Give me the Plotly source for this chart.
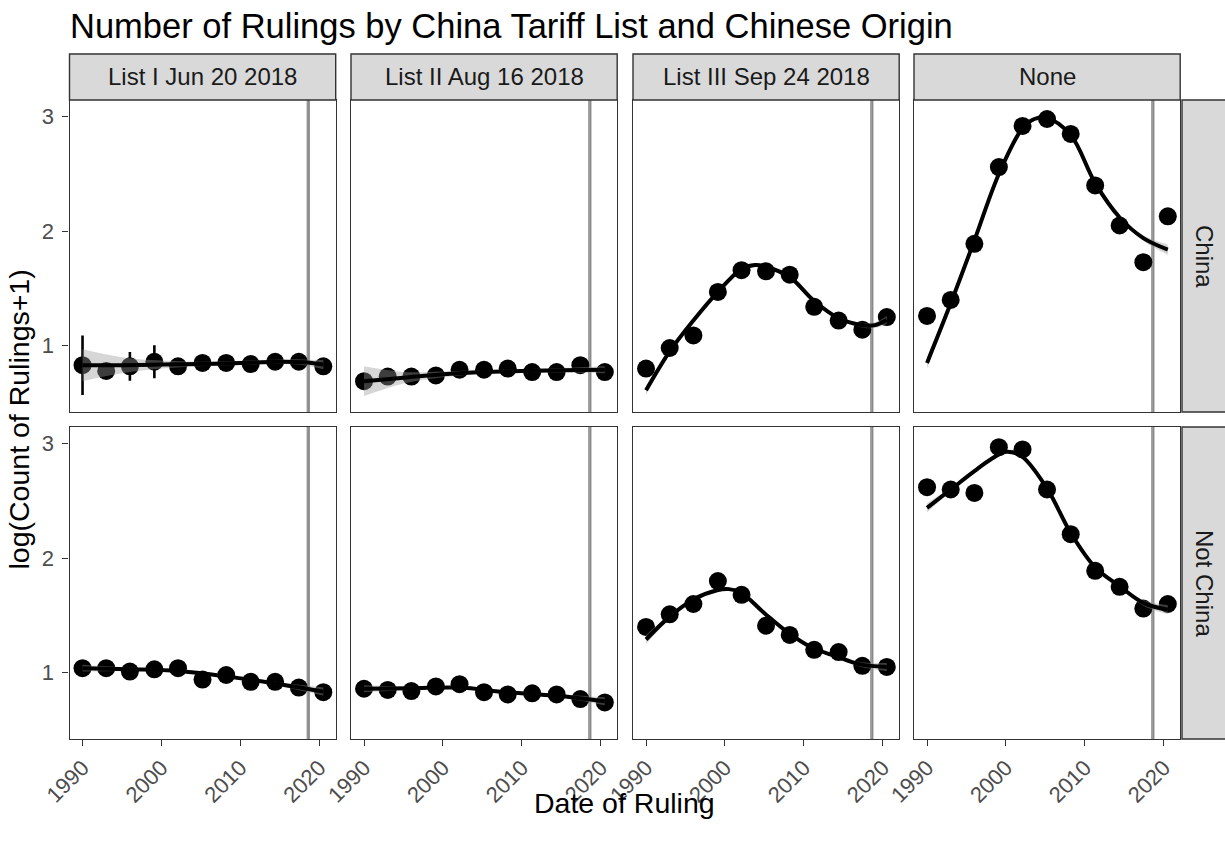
import plotly.graph_objects as go

# ---------------------------------------------------------------------------
# Data: mean log(count+1) of rulings per 3-year bin, by tariff list and origin
# ---------------------------------------------------------------------------
YEARS = [1990.0, 1993.0, 1996.0, 1999.1, 2002.1, 2005.2, 2008.2, 2011.3, 2014.4, 2017.4, 2020.5]

LIST_LABELS = ["List I Jun 20 2018", "List II Aug 16 2018", "List III Sep 24 2018", "None"]
ORIGIN_LABELS = ["China", "Not China"]

# tariff announcement dates (decimal years), drawn in every panel
TARIFF_DATES = [2018.47, 2018.62, 2018.73]

X_TICKS = [1990, 2000, 2010, 2020]
Y_TICKS = [1, 2, 3]

# China origin
CHINA_L1 = [0.83, 0.78, 0.82, 0.86, 0.82, 0.85, 0.85, 0.84, 0.86, 0.86, 0.82]
CHINA_L1_SE = [0.26, 0.07, 0.125, 0.145, 0.02, 0.02, 0.02, 0.02, 0.02, 0.02, 0.02]
CHINA_L2 = [0.69, 0.73, 0.73, 0.74, 0.79, 0.79, 0.80, 0.77, 0.77, 0.83, 0.77]
CHINA_L3 = [0.80, 0.98, 1.09, 1.47, 1.66, 1.65, 1.62, 1.34, 1.22, 1.14, 1.25]
CHINA_NONE = [1.26, 1.40, 1.89, 2.56, 2.92, 2.98, 2.85, 2.40, 2.05, 1.73, 2.13]

# Not China origin
NOTCN_L1 = [1.04, 1.04, 1.01, 1.03, 1.04, 0.94, 0.98, 0.92, 0.92, 0.87, 0.83]
NOTCN_L2 = [0.86, 0.85, 0.84, 0.88, 0.90, 0.83, 0.81, 0.82, 0.81, 0.77, 0.74]
NOTCN_L3 = [1.40, 1.51, 1.60, 1.80, 1.68, 1.41, 1.33, 1.20, 1.18, 1.06, 1.05]
NOTCN_NONE = [2.62, 2.60, 2.57, 2.97, 2.95, 2.60, 2.21, 1.89, 1.75, 1.56, 1.60]

# Loess trend lines (x, fitted value, standard-error half width)
CHINA_L1_FIT_X = [1990, 1995, 2000, 2005, 2010, 2015, 2018, 2020.5]
CHINA_L1_FIT_Y = [0.83, 0.83, 0.835, 0.84, 0.85, 0.86, 0.855, 0.835]
CHINA_L1_FIT_SE = [0.14, 0.07, 0.035, 0.02, 0.018, 0.02, 0.025, 0.04]

CHINA_L2_FIT_X = [1990, 1995, 2000, 2005, 2010, 2015, 2020.5]
CHINA_L2_FIT_Y = [0.69, 0.72, 0.75, 0.77, 0.78, 0.785, 0.79]
CHINA_L2_FIT_SE = [0.13, 0.05, 0.025, 0.015, 0.015, 0.02, 0.03]

CHINA_L3_FIT_X = [1990, 1993, 1996, 1999.1, 2002.1, 2003.8, 2005.2, 2008.2, 2011.3, 2014.4, 2017.4, 2019, 2020.5]
CHINA_L3_FIT_Y = [0.61, 0.95, 1.22, 1.47, 1.67, 1.705, 1.69, 1.60, 1.39, 1.24, 1.18, 1.18, 1.225]
CHINA_L3_FIT_SE = [0.04, 0.02, 0.015, 0.012, 0.012, 0.012, 0.012, 0.012, 0.012, 0.015, 0.02, 0.025, 0.035]

CHINA_NONE_FIT_X = [1990, 1993, 1996, 1999.1, 2002.1, 2003.6, 2005.2, 2008.2, 2011.3, 2014.4, 2017.4, 2020.5]
CHINA_NONE_FIT_Y = [0.85, 1.37, 1.92, 2.50, 2.90, 2.98, 2.99, 2.84, 2.42, 2.12, 1.94, 1.84]
CHINA_NONE_FIT_SE = [0.05, 0.025, 0.015, 0.012, 0.012, 0.012, 0.012, 0.012, 0.012, 0.015, 0.025, 0.045]

NOTCN_L1_FIT_X = [1990, 1996, 2002, 2008, 2014, 2020.5]
NOTCN_L1_FIT_Y = [1.04, 1.03, 1.015, 0.97, 0.91, 0.835]
NOTCN_L1_FIT_SE = [0.03, 0.015, 0.012, 0.012, 0.015, 0.035]

NOTCN_L2_FIT_X = [1990, 1996, 2002, 2008, 2014, 2017, 2020.5]
NOTCN_L2_FIT_Y = [0.86, 0.865, 0.87, 0.83, 0.80, 0.78, 0.75]
NOTCN_L2_FIT_SE = [0.03, 0.015, 0.012, 0.012, 0.015, 0.02, 0.035]

NOTCN_L3_FIT_X = [1990, 1993, 1996, 1999, 2000.5, 2002, 2005, 2008, 2011, 2014, 2017, 2020.5]
NOTCN_L3_FIT_Y = [1.29, 1.49, 1.64, 1.72, 1.73, 1.70, 1.52, 1.35, 1.22, 1.145, 1.075, 1.05]
NOTCN_L3_FIT_SE = [0.04, 0.02, 0.015, 0.012, 0.012, 0.012, 0.012, 0.012, 0.012, 0.015, 0.02, 0.035]

NOTCN_NONE_FIT_X = [1990, 1993, 1996, 1998, 2000, 2002, 2005.2, 2008.2, 2011.3, 2014.4, 2017.4, 2020.5]
NOTCN_NONE_FIT_Y = [2.44, 2.60, 2.76, 2.86, 2.93, 2.89, 2.61, 2.22, 1.92, 1.755, 1.61, 1.55]
NOTCN_NONE_FIT_SE = [0.04, 0.02, 0.015, 0.012, 0.012, 0.012, 0.012, 0.012, 0.012, 0.015, 0.025, 0.04]

# (row, col, means, se, fit_x, fit_y, fit_se)
PANELS = [
    (0, 0, CHINA_L1, CHINA_L1_SE, CHINA_L1_FIT_X, CHINA_L1_FIT_Y, CHINA_L1_FIT_SE),
    (0, 1, CHINA_L2, None, CHINA_L2_FIT_X, CHINA_L2_FIT_Y, CHINA_L2_FIT_SE),
    (0, 2, CHINA_L3, None, CHINA_L3_FIT_X, CHINA_L3_FIT_Y, CHINA_L3_FIT_SE),
    (0, 3, CHINA_NONE, None, CHINA_NONE_FIT_X, CHINA_NONE_FIT_Y, CHINA_NONE_FIT_SE),
    (1, 0, NOTCN_L1, None, NOTCN_L1_FIT_X, NOTCN_L1_FIT_Y, NOTCN_L1_FIT_SE),
    (1, 1, NOTCN_L2, None, NOTCN_L2_FIT_X, NOTCN_L2_FIT_Y, NOTCN_L2_FIT_SE),
    (1, 2, NOTCN_L3, None, NOTCN_L3_FIT_X, NOTCN_L3_FIT_Y, NOTCN_L3_FIT_SE),
    (1, 3, NOTCN_NONE, None, NOTCN_NONE_FIT_X, NOTCN_NONE_FIT_Y, NOTCN_NONE_FIT_SE),
]

# ---------------------------------------------------------------------------
# Layout geometry (pixels) and styling
# ---------------------------------------------------------------------------
W, H = 1225, 842
COL_PX = [(69.5, 335.7), (351.0, 617.2), (633.0, 899.2), (914.0, 1180.2)]
ROW_PX = [(100.0, 412.0), (427.0, 739.0)]
STRIP_TOP = 54.0
RIGHT_STRIP = (1182.0, 1228.0)
X_RANGE = [1988.35, 2022.07]
Y_RANGE = [0.421, 3.146]

FONT = "Liberation Sans, Arial, sans-serif"
BORDER = "#333333"
STRIP_FILL = "#d9d9d9"


def fx(p):
    return p / W


def fy(p):
    return 1 - p / H


fig = go.Figure()
layout_axes = {}
shapes = []
annotations = []

for row, col, means, se, fit_x, fit_y, fit_se in PANELS:
    k = row * 4 + col + 1
    suffix = "" if k == 1 else str(k)
    xref, yref = "x" + suffix, "y" + suffix

    # binned means (with standard-error bars when present)
    fig.add_trace(go.Scatter(
        x=YEARS, y=means, mode="markers", xaxis=xref, yaxis=yref,
        marker=dict(color="black", size=18, line=dict(width=0)),
        error_y=dict(type="data", array=se, visible=se is not None,
                     color="black", thickness=2.6, width=0),
        showlegend=False, hoverinfo="x+y",
    ))

    # confidence band of the trend
    lower = [m - s for m, s in zip(fit_y, fit_se)]
    upper = [m + s for m, s in zip(fit_y, fit_se)]
    fig.add_trace(go.Scatter(
        x=fit_x, y=lower, mode="lines", xaxis=xref, yaxis=yref,
        line=dict(width=0, shape="spline", smoothing=1.0, color="rgba(0,0,0,0)"),
        showlegend=False, hoverinfo="skip",
    ))
    fig.add_trace(go.Scatter(
        x=fit_x, y=upper, mode="lines", xaxis=xref, yaxis=yref,
        line=dict(width=0, shape="spline", smoothing=1.0, color="rgba(0,0,0,0)"),
        fill="tonexty", fillcolor="rgba(153,153,153,0.4)",
        showlegend=False, hoverinfo="skip",
    ))

    # trend line
    fig.add_trace(go.Scatter(
        x=fit_x, y=fit_y, mode="lines", xaxis=xref, yaxis=yref,
        line=dict(color="black", width=4, shape="spline", smoothing=1.0),
        showlegend=False, hoverinfo="skip",
    ))

    x0, x1 = COL_PX[col]
    y0, y1 = ROW_PX[row]
    bottom_row = row == 1
    left_col = col == 0
    layout_axes["xaxis" + suffix] = dict(
        domain=[fx(x0), fx(x1)], range=X_RANGE, anchor=yref, automargin=False,
        showline=True, mirror=True, linecolor=BORDER, linewidth=1.4,
        showgrid=False, zeroline=False,
        tickmode="array", tickvals=X_TICKS, ticktext=[str(t) for t in X_TICKS],
        ticks="outside" if bottom_row else "", ticklen=6, tickwidth=1.4, tickcolor=BORDER,
        showticklabels=bottom_row, tickangle=-45,
        tickfont=dict(family=FONT, size=22, color="#4d4d4d"),
    )
    layout_axes["yaxis" + suffix] = dict(
        domain=[fy(y1), fy(y0)], range=Y_RANGE, anchor=xref, automargin=False,
        showline=True, mirror=True, linecolor=BORDER, linewidth=1.4,
        showgrid=False, zeroline=False,
        tickmode="array", tickvals=Y_TICKS, ticktext=[str(t) for t in Y_TICKS],
        ticks="outside" if left_col else "", ticklen=6, tickwidth=1.4, tickcolor=BORDER,
        showticklabels=left_col, ticklabelstandoff=4,
        tickfont=dict(family=FONT, size=22, color="#4d4d4d"),
    )

    # tariff dates as vertical reference lines
    for d in TARIFF_DATES:
        shapes.append(dict(
            type="line", xref=xref, yref=yref + " domain",
            x0=d, x1=d, y0=0, y1=1, layer="below",
            line=dict(color="rgba(90,90,90,0.6)", width=1.4),
        ))

# column strips
for col, label in enumerate(LIST_LABELS):
    x0, x1 = COL_PX[col]
    shapes.append(dict(
        type="rect", xref="paper", yref="paper",
        x0=fx(x0), x1=fx(x1), y0=fy(ROW_PX[0][0]), y1=fy(STRIP_TOP),
        fillcolor=STRIP_FILL, line=dict(color=BORDER, width=1.4), layer="above",
    ))
    annotations.append(dict(
        text=label, xref="paper", yref="paper",
        x=fx((x0 + x1) / 2), y=fy((STRIP_TOP + ROW_PX[0][0]) / 2),
        xanchor="center", yanchor="middle", showarrow=False,
        font=dict(family=FONT, size=24, color="#1a1a1a"),
    ))

# row strips
for row, label in enumerate(ORIGIN_LABELS):
    y0, y1 = ROW_PX[row]
    shapes.append(dict(
        type="rect", xref="paper", yref="paper",
        x0=fx(RIGHT_STRIP[0]), x1=fx(RIGHT_STRIP[1]), y0=fy(y1), y1=fy(y0),
        fillcolor=STRIP_FILL, line=dict(color=BORDER, width=1.4), layer="above",
    ))
    annotations.append(dict(
        text=label, xref="paper", yref="paper",
        x=fx((RIGHT_STRIP[0] + RIGHT_STRIP[1]) / 2), y=fy((y0 + y1) / 2),
        xanchor="center", yanchor="middle", showarrow=False, textangle=90,
        font=dict(family=FONT, size=24, color="#1a1a1a"),
    ))

# titles
annotations.append(dict(
    text="Number of Rulings by China Tariff List and Chinese Origin",
    xref="paper", yref="paper", x=fx(68), y=fy(26), xanchor="left", yanchor="middle",
    showarrow=False, font=dict(family=FONT, size=34.5, color="black"),
))
annotations.append(dict(
    text="Date of Ruling", xref="paper", yref="paper",
    x=fx((COL_PX[0][0] + COL_PX[3][1]) / 2), y=fy(803), xanchor="center", yanchor="middle",
    showarrow=False, font=dict(family=FONT, size=28.5, color="black"),
))
annotations.append(dict(
    text="log(Count of Rulings+1)", xref="paper", yref="paper",
    x=fx(18), y=fy((ROW_PX[0][0] + ROW_PX[1][1]) / 2), xanchor="center", yanchor="middle",
    textangle=-90, showarrow=False, font=dict(family=FONT, size=28.5, color="black"),
))

fig.update_layout(
    width=W, height=H, autosize=False,
    margin=dict(l=0, r=0, t=0, b=0),
    paper_bgcolor="white", plot_bgcolor="white",
    shapes=shapes, annotations=annotations,
    showlegend=False,
    **layout_axes,
)

fig.write_html("out.html")
